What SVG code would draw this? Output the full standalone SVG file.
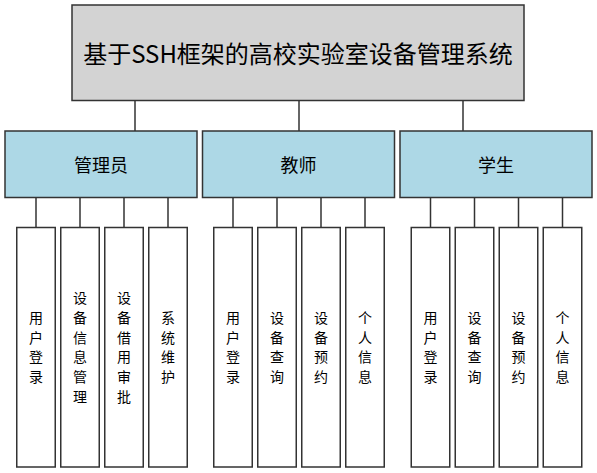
<svg xmlns="http://www.w3.org/2000/svg" width="597" height="473" viewBox="0 0 597 473">
<style>
text{font-family:"Noto Sans CJK SC","Liberation Sans",sans-serif;fill:#000;text-anchor:middle;dominant-baseline:central}
.b{stroke:#333;stroke-width:1.5}
.top{fill:#D3D3D3}
.mid{fill:#ADD8E6}
.leaf{fill:#fff}
.t1{font-size:24px}
.t2{font-size:18px}
.t3{font-size:14px}
#connectors line{stroke:#333;stroke-width:1.5}
</style>
<rect width="597" height="473" fill="#fff"/>
<g id="connectors">
<line x1="135" y1="100.5" x2="135" y2="131"/>
<line x1="299" y1="100.5" x2="299" y2="131"/>
<line x1="463" y1="100.5" x2="463" y2="131"/>
<line x1="36" y1="197.5" x2="36" y2="227.5"/>
<line x1="80" y1="197.5" x2="80" y2="227.5"/>
<line x1="124" y1="197.5" x2="124" y2="227.5"/>
<line x1="168" y1="197.5" x2="168" y2="227.5"/>
<line x1="233" y1="197.5" x2="233" y2="227.5"/>
<line x1="277" y1="197.5" x2="277" y2="227.5"/>
<line x1="321" y1="197.5" x2="321" y2="227.5"/>
<line x1="365" y1="197.5" x2="365" y2="227.5"/>
<line x1="430.5" y1="197.5" x2="430.5" y2="227.5"/>
<line x1="474.5" y1="197.5" x2="474.5" y2="227.5"/>
<line x1="518.5" y1="197.5" x2="518.5" y2="227.5"/>
<line x1="562.5" y1="197.5" x2="562.5" y2="227.5"/>
</g>
<g id="root">
<rect class="b top" x="72" y="5" width="452" height="95.5"/>
<text class="t1" x="298" y="52">基于SSH框架的高校实验室设备管理系统</text>
</g>
<g id="admin">
<rect class="b mid" x="5" y="131" width="192" height="66.5"/>
<text class="t2" x="101" y="164">管理员</text>
</g>
<g id="teacher">
<rect class="b mid" x="202.5" y="131" width="192" height="66.5"/>
<text class="t2" x="298.5" y="164">教师</text>
</g>
<g id="student">
<rect class="b mid" x="400" y="131" width="192" height="66.5"/>
<text class="t2" x="496" y="164">学生</text>
</g>
<g id="a1"><rect class="b leaf" x="16.75" y="227.5" width="38.5" height="239.5"/>
<text class="t3" x="36"><tspan x="36" y="317">用</tspan><tspan x="36" y="336.7">户</tspan><tspan x="36" y="356.4">登</tspan><tspan x="36" y="376.1">录</tspan></text></g>
<g id="a2"><rect class="b leaf" x="60.75" y="227.5" width="38.5" height="239.5"/>
<text class="t3" x="80"><tspan x="80" y="297.3">设</tspan><tspan x="80" y="317">备</tspan><tspan x="80" y="336.7">信</tspan><tspan x="80" y="356.4">息</tspan><tspan x="80" y="376.1">管</tspan><tspan x="80" y="395.8">理</tspan></text></g>
<g id="a3"><rect class="b leaf" x="104.75" y="227.5" width="38.5" height="239.5"/>
<text class="t3" x="124"><tspan x="124" y="297.3">设</tspan><tspan x="124" y="317">备</tspan><tspan x="124" y="336.7">借</tspan><tspan x="124" y="356.4">用</tspan><tspan x="124" y="376.1">审</tspan><tspan x="124" y="395.8">批</tspan></text></g>
<g id="a4"><rect class="b leaf" x="148.75" y="227.5" width="38.5" height="239.5"/>
<text class="t3" x="168"><tspan x="168" y="317">系</tspan><tspan x="168" y="336.7">统</tspan><tspan x="168" y="356.4">维</tspan><tspan x="168" y="376.1">护</tspan></text></g>
<g id="t1"><rect class="b leaf" x="213.75" y="227.5" width="38.5" height="239.5"/>
<text class="t3" x="233"><tspan x="233" y="317">用</tspan><tspan x="233" y="336.7">户</tspan><tspan x="233" y="356.4">登</tspan><tspan x="233" y="376.1">录</tspan></text></g>
<g id="t2"><rect class="b leaf" x="257.75" y="227.5" width="38.5" height="239.5"/>
<text class="t3" x="277"><tspan x="277" y="317">设</tspan><tspan x="277" y="336.7">备</tspan><tspan x="277" y="356.4">查</tspan><tspan x="277" y="376.1">询</tspan></text></g>
<g id="t3"><rect class="b leaf" x="301.75" y="227.5" width="38.5" height="239.5"/>
<text class="t3" x="321"><tspan x="321" y="317">设</tspan><tspan x="321" y="336.7">备</tspan><tspan x="321" y="356.4">预</tspan><tspan x="321" y="376.1">约</tspan></text></g>
<g id="t4"><rect class="b leaf" x="345.75" y="227.5" width="38.5" height="239.5"/>
<text class="t3" x="365"><tspan x="365" y="317">个</tspan><tspan x="365" y="336.7">人</tspan><tspan x="365" y="356.4">信</tspan><tspan x="365" y="376.1">息</tspan></text></g>
<g id="s1"><rect class="b leaf" x="411.25" y="227.5" width="38.5" height="239.5"/>
<text class="t3" x="430.5"><tspan x="430.5" y="317">用</tspan><tspan x="430.5" y="336.7">户</tspan><tspan x="430.5" y="356.4">登</tspan><tspan x="430.5" y="376.1">录</tspan></text></g>
<g id="s2"><rect class="b leaf" x="455.25" y="227.5" width="38.5" height="239.5"/>
<text class="t3" x="474.5"><tspan x="474.5" y="317">设</tspan><tspan x="474.5" y="336.7">备</tspan><tspan x="474.5" y="356.4">查</tspan><tspan x="474.5" y="376.1">询</tspan></text></g>
<g id="s3"><rect class="b leaf" x="499.25" y="227.5" width="38.5" height="239.5"/>
<text class="t3" x="518.5"><tspan x="518.5" y="317">设</tspan><tspan x="518.5" y="336.7">备</tspan><tspan x="518.5" y="356.4">预</tspan><tspan x="518.5" y="376.1">约</tspan></text></g>
<g id="s4"><rect class="b leaf" x="543.25" y="227.5" width="38.5" height="239.5"/>
<text class="t3" x="562.5"><tspan x="562.5" y="317">个</tspan><tspan x="562.5" y="336.7">人</tspan><tspan x="562.5" y="356.4">信</tspan><tspan x="562.5" y="376.1">息</tspan></text></g>
</svg>
